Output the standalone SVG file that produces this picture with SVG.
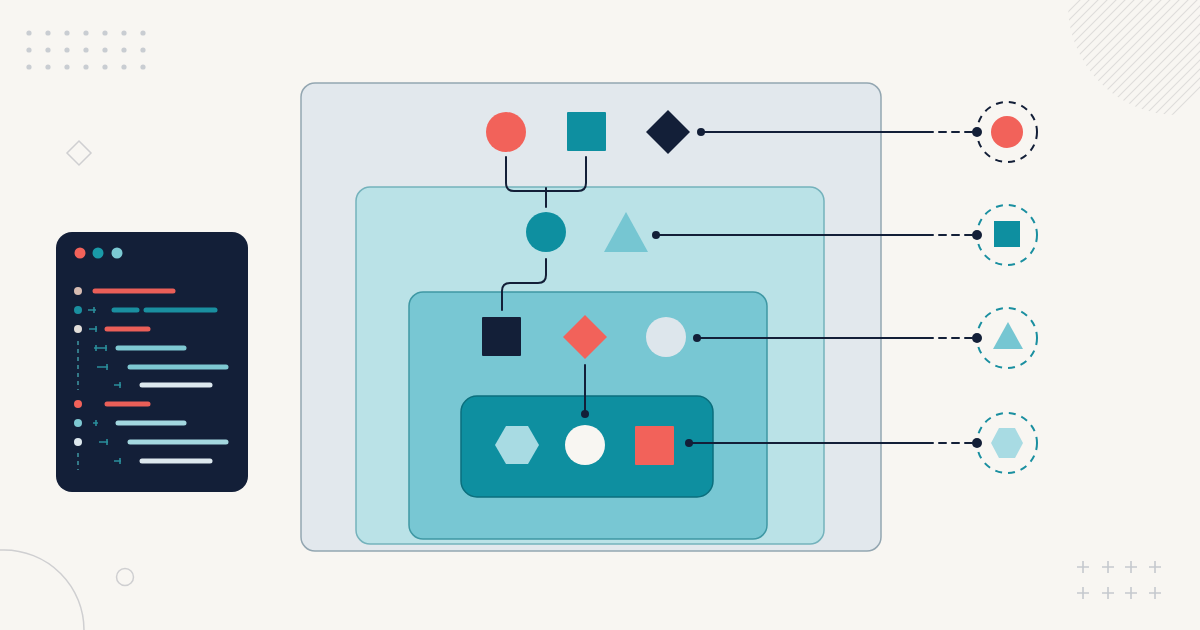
<svg xmlns="http://www.w3.org/2000/svg" width="1200" height="630" viewBox="0 0 1200 630">
<defs>
<style>
.bgdot{fill:#c9cdd2}
.deco{fill:none;stroke:#cfcfd1;stroke-width:1.5}
.plus{stroke:#c5c9ce;stroke-width:1.6}
.hatch{stroke:#dddcda;stroke-width:1.1}
.bar{stroke-width:5;stroke-linecap:round;fill:none}
.arr{stroke:#2b8f9c;stroke-width:1.6;fill:none}
.conn{fill:none;stroke:#131f38;stroke-width:2;stroke-linecap:round;stroke-linejoin:round}
.cdot{fill:#131f38}
.navy{fill:#131f38}
.red{fill:#f2625a}
.teal{fill:#0e8fa0}
.lteal{fill:#76c6d2}
.pale{fill:#a8dbe3}
.ring{fill:none;stroke-width:2;stroke-dasharray:7 6}
</style>
<clipPath id="hc"><circle cx="1178" cy="5" r="110"/></clipPath>
</defs>
<rect width="1200" height="630" fill="#f8f6f2"/>

<!-- background decorations -->
<g id="dots">
<g class="bgdot">
<circle cx="29" cy="33" r="2.6"/><circle cx="48" cy="33" r="2.6"/><circle cx="67" cy="33" r="2.6"/><circle cx="86" cy="33" r="2.6"/><circle cx="105" cy="33" r="2.6"/><circle cx="124" cy="33" r="2.6"/><circle cx="143" cy="33" r="2.6"/>
<circle cx="29" cy="50" r="2.6"/><circle cx="48" cy="50" r="2.6"/><circle cx="67" cy="50" r="2.6"/><circle cx="86" cy="50" r="2.6"/><circle cx="105" cy="50" r="2.6"/><circle cx="124" cy="50" r="2.6"/><circle cx="143" cy="50" r="2.6"/>
<circle cx="29" cy="67" r="2.6"/><circle cx="48" cy="67" r="2.6"/><circle cx="67" cy="67" r="2.6"/><circle cx="86" cy="67" r="2.6"/><circle cx="105" cy="67" r="2.6"/><circle cx="124" cy="67" r="2.6"/><circle cx="143" cy="67" r="2.6"/>
</g>
</g>
<polygon class="deco" points="79,141 91,153 79,165 67,153"/>
<g clip-path="url(#hc)" class="hatch">
<line x1="1040" y1="40" x2="1120" y2="-40"/>
<line x1="1040" y1="49" x2="1129" y2="-40"/>
<line x1="1040" y1="58" x2="1138" y2="-40"/>
<line x1="1040" y1="67" x2="1147" y2="-40"/>
<line x1="1040" y1="76" x2="1156" y2="-40"/>
<line x1="1040" y1="85" x2="1165" y2="-40"/>
<line x1="1040" y1="94" x2="1174" y2="-40"/>
<line x1="1040" y1="103" x2="1183" y2="-40"/>
<line x1="1040" y1="112" x2="1192" y2="-40"/>
<line x1="1040" y1="121" x2="1201" y2="-40"/>
<line x1="1040" y1="130" x2="1210" y2="-40"/>
<line x1="1040" y1="139" x2="1219" y2="-40"/>
<line x1="1040" y1="148" x2="1228" y2="-40"/>
<line x1="1040" y1="157" x2="1237" y2="-40"/>
<line x1="1040" y1="166" x2="1246" y2="-40"/>
<line x1="1040" y1="175" x2="1255" y2="-40"/>
<line x1="1040" y1="184" x2="1264" y2="-40"/>
<line x1="1040" y1="193" x2="1273" y2="-40"/>
<line x1="1040" y1="202" x2="1282" y2="-40"/>
<line x1="1040" y1="211" x2="1291" y2="-40"/>
<line x1="1040" y1="220" x2="1300" y2="-40"/>
<line x1="1040" y1="229" x2="1309" y2="-40"/>
<line x1="1040" y1="238" x2="1318" y2="-40"/>
<line x1="1040" y1="247" x2="1327" y2="-40"/>
</g>
<circle class="deco" cx="4" cy="630" r="80"/>
<circle class="deco" cx="125" cy="577" r="8.5"/>
<g class="plus">
<path d="M1077 567h12M1083 561v12M1102 567h12M1108 561v12M1125 567h12M1131 561v12M1149 567h12M1155 561v12"/>
<path d="M1077 593h12M1083 587v12M1102 593h12M1108 587v12M1125 593h12M1131 587v12M1149 593h12M1155 587v12"/>
</g>

<!-- code panel -->
<g id="code-panel">
<rect x="56" y="232" width="192" height="260" rx="16" fill="#131f38"/>
<circle cx="80" cy="253" r="5.5" fill="#f2625a"/>
<circle cx="98" cy="253" r="5.5" fill="#1a9aa8"/>
<circle cx="117" cy="253" r="5.5" fill="#7ccad4"/>
<circle cx="78" cy="291" r="4" fill="#d6bcb2"/>
<line class="bar" x1="95" y1="291" x2="173" y2="291" stroke="#ea5f58"/>
<circle cx="78" cy="310" r="4" fill="#1a8fa0"/>
<path class="arr" d="M88 310h8M94 307v6"/>
<line class="bar" x1="114" y1="310" x2="137" y2="310" stroke="#1a8fa0"/>
<line class="bar" x1="146" y1="310" x2="215" y2="310" stroke="#1a8fa0"/>
<circle cx="78" cy="329" r="4" fill="#e1deda"/>
<path class="arr" d="M89 329h8M96 326v6"/>
<line class="bar" x1="107" y1="329" x2="148" y2="329" stroke="#ea5f58"/>
<line x1="78" y1="341" x2="78" y2="390" stroke="#3c8f9c" stroke-width="1.6" stroke-dasharray="4 4"/>
<path class="arr" d="M94 348h13M96 345v6M106 345v6"/>
<line class="bar" x1="118" y1="348" x2="184" y2="348" stroke="#7ec8d2"/>
<path class="arr" d="M97 367h11M107 364v6"/>
<line class="bar" x1="130" y1="367" x2="226" y2="367" stroke="#7ec8d2"/>
<path class="arr" d="M114 385h7M120 382v6"/>
<line class="bar" x1="142" y1="385" x2="210" y2="385" stroke="#dde8ee"/>
<circle cx="78" cy="404" r="4" fill="#f2625a"/>
<line class="bar" x1="107" y1="404" x2="148" y2="404" stroke="#ea5f58"/>
<circle cx="78" cy="423" r="4" fill="#7ec8d2"/>
<path class="arr" d="M93 423h5M96 420v6"/>
<line class="bar" x1="118" y1="423" x2="184" y2="423" stroke="#a3d7df"/>
<circle cx="78" cy="442" r="4" fill="#dde8ee"/>
<path class="arr" d="M99 442h9M107 439v6"/>
<line class="bar" x1="130" y1="442" x2="226" y2="442" stroke="#a3d7df"/>
<line x1="78" y1="453" x2="78" y2="470" stroke="#3c8f9c" stroke-width="1.6" stroke-dasharray="4 4"/>
<path class="arr" d="M114 461h7M120 458v6"/>
<line class="bar" x1="142" y1="461" x2="210" y2="461" stroke="#dde8ee"/>
</g>

<!-- containers -->
<g id="container-1"><rect x="301" y="83" width="580" height="468" rx="14" fill="#e2e8ed" stroke="#93a6b1" stroke-width="1.5"/></g>
<g id="container-2"><rect x="356" y="187" width="468" height="357" rx="14" fill="#bae2e7" stroke="#74b2bc" stroke-width="1.5"/></g>
<g id="container-3"><rect x="409" y="292" width="358" height="247" rx="14" fill="#78c7d3" stroke="#3f98a4" stroke-width="1.5"/></g>
<g id="container-4"><rect x="461" y="396" width="252" height="101" rx="16" fill="#0e8fa0" stroke="#0b6f7d" stroke-width="1.5"/></g>

<!-- legend -->
<g id="legend-1">
<circle class="ring" cx="1007" cy="132" r="30" stroke="#131f38"/>
<circle class="red" cx="1007" cy="132" r="16"/>
</g>
<g id="legend-2">
<circle class="ring" cx="1007" cy="235" r="30" stroke="#1a8fa0"/>
<rect class="teal" x="994" y="221" width="26" height="26"/>
</g>
<g id="legend-3">
<circle class="ring" cx="1007" cy="338" r="30" stroke="#1a8fa0"/>
<polygon class="lteal" points="1008,322 1023,349 993,349"/>
</g>
<g id="legend-4">
<circle class="ring" cx="1007" cy="443" r="30" stroke="#1a8fa0"/>
<polygon class="pale" points="999,428 1015,428 1023,443 1015,458 999,458 991,443"/>
</g>

<!-- connectors -->
<g id="connectors">
<path class="conn" d="M506 157V183q0 8 8 8H578q8 0 8-8V157"/>
<path class="conn" d="M546 188V207"/>
<path class="conn" d="M546 259V275q0 8-8 8H510q-8 0-8 8V310"/>
<path class="conn" d="M585 365V414"/>
<circle class="cdot" cx="585" cy="414" r="4"/>
<path class="conn" d="M701 132H933"/>
<path class="conn" d="M656 235H933"/>
<path class="conn" d="M697 338H933"/>
<path class="conn" d="M689 443H933"/>
<g class="conn" stroke-dasharray="7 6">
<path d="M939 132H975"/><path d="M939 235H975"/><path d="M939 338H975"/><path d="M939 443H975"/>
</g>
<circle class="cdot" cx="701" cy="132" r="4"/>
<circle class="cdot" cx="656" cy="235" r="4"/>
<circle class="cdot" cx="697" cy="338" r="4"/>
<circle class="cdot" cx="689" cy="443" r="4"/>
<circle class="cdot" cx="977" cy="132" r="5"/>
<circle class="cdot" cx="977" cy="235" r="5"/>
<circle class="cdot" cx="977" cy="338" r="5"/>
<circle class="cdot" cx="977" cy="443" r="5"/>
</g>

<!-- nodes level 1 -->
<g id="n-red-circle"><circle class="red" cx="506" cy="132" r="20"/></g>
<g id="n-teal-square"><rect class="teal" x="567" y="112" width="39" height="39" rx="1"/></g>
<g id="n-navy-diamond"><polygon class="navy" points="668,110 690,132 668,154 646,132"/></g>
<!-- level 2 -->
<g id="n-teal-circle"><circle class="teal" cx="546" cy="232" r="20"/></g>
<g id="n-triangle"><polygon class="lteal" points="626,212 648,252 604,252"/></g>
<!-- level 3 -->
<g id="n-navy-square"><rect class="navy" x="482" y="317" width="39" height="39" rx="1"/></g>
<g id="n-red-diamond"><polygon class="red" points="585,315 607,337 585,359 563,337"/></g>
<g id="n-light-circle"><circle cx="666" cy="337" r="20" fill="#dde6ec"/></g>
<!-- level 4 -->
<g id="n-hexagon"><polygon class="pale" points="506,426 528,426 539,445 528,464 506,464 495,445"/></g>
<g id="n-white-circle"><circle cx="585" cy="445" r="20" fill="#f8f6f2"/></g>
<g id="n-red-square"><rect class="red" x="635" y="426" width="39" height="39" rx="1"/></g>
</svg>
